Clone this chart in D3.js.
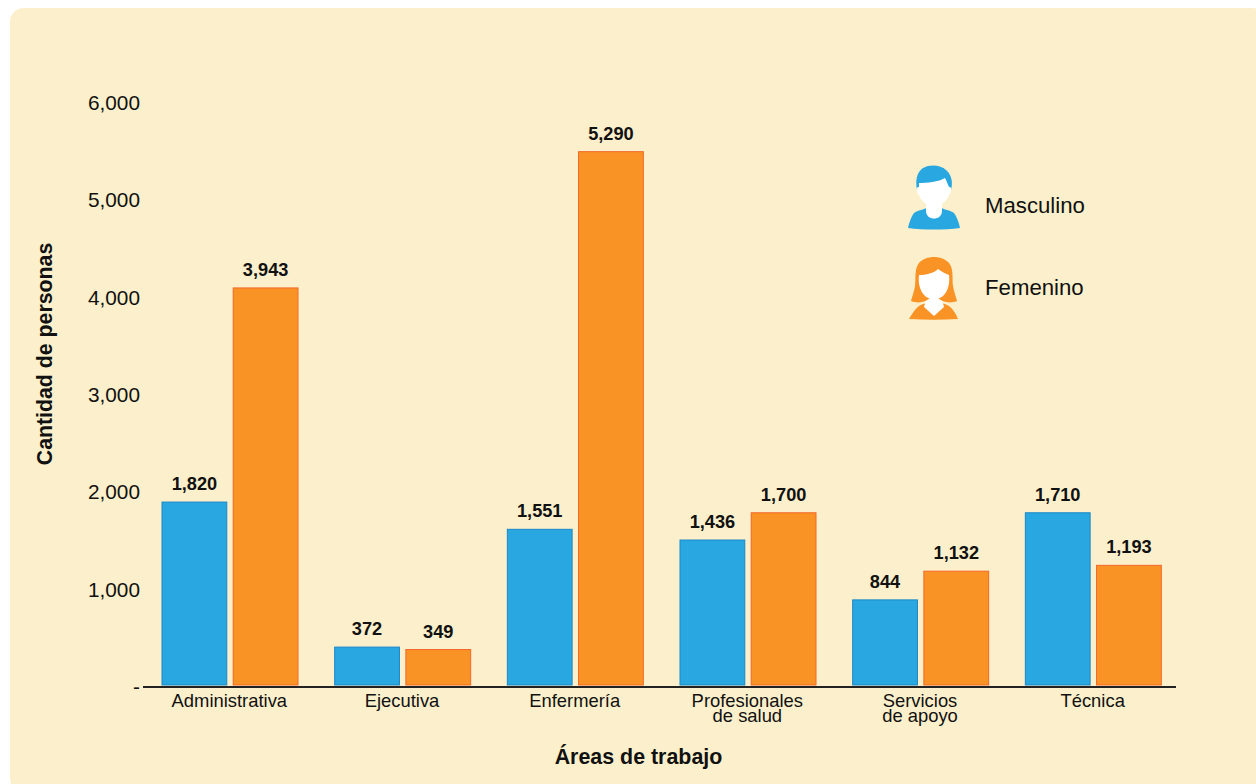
<!DOCTYPE html>
<html>
<head>
<meta charset="utf-8">
<script src="https://cdn.jsdelivr.net/npm/d3@7"></script>
<style>
    html, body { margin: 0; padding: 0; background: #ffffff; }
    svg { display: block; }
    text { font-family: "Liberation Sans", Arial, sans-serif; fill: #111111; }
</style>
</head>
<body>
<div id="chart"></div>
<script>
const categories = ["Administrativa", "Ejecutiva", "Enfermería", "Profesionales\nde salud", "Servicios\nde apoyo", "Técnica"];
const seriesNames = ["Masculino", "Femenino"];
// the printed labels and the bar heights disagree in the picture, so both are kept
const masculinoLabels = [1820, 372, 1551, 1436, 844, 1710];
const femeninoLabels = [3943, 349, 5290, 1700, 1132, 1193];
const masculinoBars = [1900, 410, 1620, 1510, 895, 1790];
const femeninoBars = [4100, 385, 5500, 1790, 1190, 1250];
const yTicks = [0, 1000, 2000, 3000, 4000, 5000, 6000];

const svgWidth = 1256;
const svgHeight = 784;
const margin = { top: 103, right: 80, bottom: 97, left: 143 };
const width = svgWidth - margin.left - margin.right;
const height = svgHeight - margin.top - margin.bottom;

const colors = ["#29a7e1", "#f99325"];
const strokes = ["#1b87c9", "#f4672a"];

const s = d3.select("#chart").append("svg")
    .attr("width", svgWidth)
    .attr("height", svgHeight);

s.append("rect")
    .attr("x", 10)
    .attr("y", 8)
    .attr("width", svgWidth)
    .attr("height", svgHeight)
    .attr("rx", 14)
    .attr("ry", 14)
    .attr("fill", "#fbf0cb");

const svg = s.append("g")
    .attr("transform", "translate(" + margin.left + "," + margin.top + ")");

const xScale = d3.scaleBand().domain(categories).range([0, width + 3]);
const xInner = d3.scaleBand().domain(seriesNames).range([19, 155]).paddingInner(0.09);
const yScale = d3.scaleLinear().domain([0, 6000]).range([height, 0]);

svg.append("g")
    .attr("class", "y-axis")
    .call(d3.axisLeft(yScale)
        .tickValues(yTicks)
        .tickSize(0)
        .tickPadding(3)
        .tickFormat((d) => d === 0 ? "-" : d3.format(",")(d)))
    .call(g => {
        g.select(".domain").remove();
        g.selectAll("text").attr("font-size", "20.8px").attr("fill", "#111111");
    });

const groups = svg.selectAll(".group")
    .data(categories)
    .enter()
    .append("g")
    .attr("class", "group")
    .attr("transform", (d) => "translate(" + xScale(d) + ",0)");

const rows = (i) => [
    { name: seriesNames[0], bar: masculinoBars[i], label: masculinoLabels[i], k: 0 },
    { name: seriesNames[1], bar: femeninoBars[i], label: femeninoLabels[i], k: 1 }
];

groups.selectAll("rect")
    .data((d, i) => rows(i))
    .enter()
    .append("rect")
    .attr("x", (d) => xInner(d.name))
    .attr("y", (d) => yScale(d.bar))
    .attr("width", xInner.bandwidth())
    .attr("height", (d) => yScale(0) - yScale(d.bar) - 2)
    .attr("fill", (d) => colors[d.k])
    .attr("stroke", (d) => strokes[d.k])
    .attr("stroke-width", 1);

groups.selectAll(".value")
    .data((d, i) => rows(i))
    .enter()
    .append("text")
    .attr("class", "value")
    .attr("x", (d) => xInner(d.name) + xInner.bandwidth() / 2)
    .attr("y", (d) => yScale(d.bar) - 12)
    .attr("text-anchor", "middle")
    .attr("font-size", "18.2px")
    .attr("font-weight", "bold")
    .text((d) => d3.format(",")(d.label));

svg.append("g")
    .attr("class", "x-axis")
    .attr("transform", "translate(0," + height + ")")
    .call(d3.axisBottom(xScale).tickSize(0).tickPadding(0).tickFormat(""))
    .call(g => {
        g.select(".domain")
            .attr("d", "M0,0H" + width)
            .attr("stroke", "#222222")
            .attr("stroke-width", 2);
        g.selectAll(".tick text").remove();
        g.selectAll(".tick").append("text")
            .attr("text-anchor", "middle")
            .attr("font-size", "18.4px")
            .selectAll("tspan")
            .data((d) => d.split("\n"))
            .enter()
            .append("tspan")
            .attr("x", 0)
            .attr("y", (d, i) => 20 + i * 15)
            .text((d) => d);
    });

s.append("text")
    .attr("x", 638.5)
    .attr("y", 764)
    .attr("text-anchor", "middle")
    .attr("font-size", "21.4px")
    .attr("font-weight", "bold")
    .text("Áreas de trabajo");

s.append("text")
    .attr("transform", "translate(52,354) rotate(-90)")
    .attr("text-anchor", "middle")
    .attr("font-size", "21.3px")
    .attr("font-weight", "bold")
    .text("Cantidad de personas");

// legend, icons are drawn around a local origin at the middle of the head
const legend = s.append("g").attr("class", "legend");

const male = legend.append("g").attr("transform", "translate(934,190)");
male.append("path")
    .attr("fill", colors[0])
    .attr("d", "M-26,38 C-25,33 -23,27 -20,23 C-16,20 -10,20 -6,17 L6,17 C10,20 16,20 20,23 C23,27 25,33 26,38 C10,40 -10,40 -26,38 Z");
male.append("path")
    .attr("fill", "#ffffff")
    .attr("d", "M-8,12 L8,12 L8,21 C8,31 -8,31 -8,21 Z");
male.append("path")
    .attr("fill", colors[0])
    .attr("d", "M-17,0 C-19,-10 -17,-18 -11,-22 C-4,-26 7,-25 12,-20 C18,-15 19,-7 17,0 Z");
male.append("path")
    .attr("fill", "#ffffff")
    .attr("d", "M-15,-7 C-8,-7 5,-8 11,-12 C13,-8 14,-5 15,-3 C18,-4 18,2 15,5 C13,11 6,17 0,17 C-6,17 -13,11 -15,5 C-18,2 -18,-4 -15,-3 Z");

const female = legend.append("g").attr("transform", "translate(934,282)");
female.append("path")
    .attr("fill", colors[1])
    .attr("d", "M-25,37 C-22,32 -19,27 -15,24 C-10,21 -6,21 -4,20 L4,20 C6,21 10,21 15,24 C19,27 22,32 24,37 C8,38 -8,38 -25,37 Z");
female.append("path")
    .attr("fill", "#ffffff")
    .attr("d", "M-7,14 L7,14 L10,25 L0,34 L-10,25 Z");
female.append("path")
    .attr("fill", colors[1])
    .attr("d", "M-15,-19 C-8,-27 8,-27 15,-19 C20,-13 18,-2 19,4 C20,10 22,15 23,19 C16,22 8,20 4,16 L-4,16 C-8,20 -16,22 -23,19 C-22,15 -20,10 -19,4 C-18,-2 -20,-13 -15,-19 Z");
female.append("path")
    .attr("fill", "#ffffff")
    .attr("d", "M-15,-7 C-8,-7 0,-9 4,-13 C8,-10 12,-8 15,-7 C16,2 14,9 9,14 C5,18 -5,18 -9,14 C-14,9 -16,2 -15,-7 Z");

legend.selectAll(".legend-label")
    .data(seriesNames)
    .enter()
    .append("text")
    .attr("class", "legend-label")
    .attr("x", 985)
    .attr("y", (d, i) => 213 + i * 82)
    .attr("font-size", "22.2px")
    .text((d) => d);
</script>
</body>
</html>
